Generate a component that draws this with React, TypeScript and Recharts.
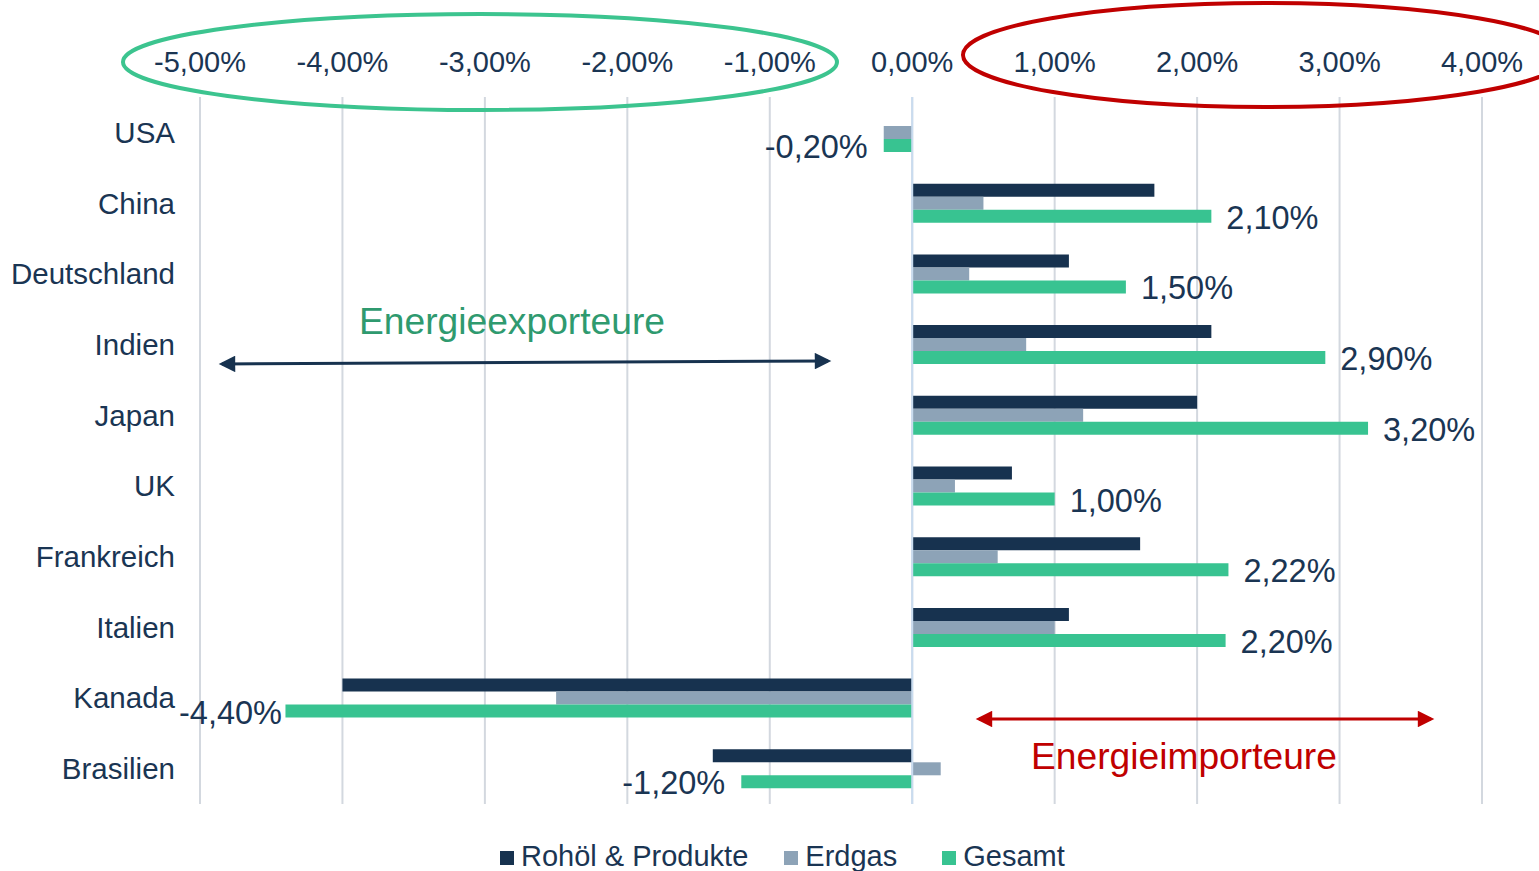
import React from 'react';
import { BarChart, Bar, XAxis, YAxis, CartesianGrid, ReferenceLine, Legend, LabelList } from 'recharts';

const countries = ['USA', 'China', 'Deutschland', 'Indien', 'Japan', 'UK', 'Frankreich', 'Italien', 'Kanada', 'Brasilien'];
const rohoel = [0, 1.7, 1.1, 2.1, 2.0, 0.7, 1.6, 1.1, -4.0, -1.4];
const erdgas = [-0.2, 0.5, 0.4, 0.8, 1.2, 0.3, 0.6, 1.0, -2.5, 0.2];
const gesamt = [-0.2, 2.1, 1.5, 2.9, 3.2, 1.0, 2.22, 2.2, -4.4, -1.2];
const xTicks = [-5, -4, -3, -2, -1, 0, 1, 2, 3, 4];
const seriesNames = ['Rohöl & Produkte', 'Erdgas', 'Gesamt'];
const seriesKeys = ['rohoel', 'erdgas', 'gesamt'];
const seriesColors = ['#17324f', '#8da3b7', '#38c391'];
const exportLabel = 'Energieexporteure';
const importLabel = 'Energieimporteure';

const data = countries.map((name, i) => ({
  name,
  rohoel: rohoel[i],
  erdgas: erdgas[i],
  gesamt: gesamt[i],
}));

const FONT = '"Liberation Sans", Arial, Helvetica, sans-serif';
const TEXT = '#1a3553';

const fmt = (v: number) => v.toFixed(2).replace('.', ',') + '%';

const GesamtLabel = (props: any) => {
  const { x, y, width, height, value } = props;
  const left = Math.min(x, x + width);
  const right = Math.max(x, x + width);
  const cy = y + height / 2 + 12.5;
  const text = fmt(Number(value));
  if (Number(value) >= 0) {
    return (
      <text x={right + 15} y={cy} textAnchor="start" fontSize={32.5} fill={TEXT} fontFamily={FONT}>
        {text}
      </text>
    );
  }
  const end = Math.max(left - 16, 282);
  return (
    <text x={end} y={cy} textAnchor="end" fontSize={32.5} fill={TEXT} fontFamily={FONT}>
      {text}
    </text>
  );
};

const legendGaps = [36, 45, 0];

const renderLegend = () => (
  <div style={{ height: 40, width: 1539, position: 'relative', fontFamily: FONT }}>
    <div style={{ display: 'flex', paddingLeft: 500, paddingTop: 9, alignItems: 'center' }}>
      {seriesNames.map((n, i) => (
        <div key={n} style={{ display: 'flex', alignItems: 'center', marginRight: legendGaps[i] }}>
          <div style={{ width: 14, height: 14, background: seriesColors[i], marginRight: 7, marginTop: 3 }} />
          <span style={{ fontSize: 29, lineHeight: '32px', color: TEXT, whiteSpace: 'nowrap' }}>{n}</span>
        </div>
      ))}
    </div>
  </div>
);

export default function App() {
  return (
    <div style={{ position: 'absolute', left: 0, top: 0, width: 1539, height: 871, background: '#fff', overflow: 'hidden' }}>
      <BarChart
        width={1539}
        height={871}
        data={data}
        layout="vertical"
        margin={{ top: 37, right: 57, left: 0, bottom: 27 }}
        barSize={13}
        barGap={0}
      >
        <CartesianGrid horizontal={false} vertical stroke="#d3d8df" strokeWidth={2} />
        <XAxis
          type="number"
          orientation="top"
          domain={[-5, 4]}
          ticks={xTicks}
          tickFormatter={fmt}
          axisLine={false}
          tickLine={false}
          tickSize={0}
          tickMargin={25}
          height={60}
          interval={0}
          tick={{ fontSize: 29, fill: TEXT, fontFamily: FONT }}
        />
        <YAxis
          type="category"
          dataKey="name"
          width={200}
          axisLine={false}
          tickLine={false}
          tickSize={0}
          tickMargin={25}
          interval={0}
          tick={{ fontSize: 29.5, fill: TEXT, fontFamily: FONT }}
        />
        <ReferenceLine x={0} stroke="#c9dcef" strokeWidth={2} />
        {seriesKeys.map((k, i) => (
          <Bar key={k} dataKey={k} name={seriesNames[i]} fill={seriesColors[i]} isAnimationActive={false}>
            {k === 'gesamt' ? <LabelList dataKey="gesamt" content={GesamtLabel} /> : null}
          </Bar>
        ))}
        <Legend
          verticalAlign="bottom"
          content={renderLegend}
          wrapperStyle={{ left: 0, bottom: 0, width: 1539, height: 40 }}
        />
      </BarChart>
      <svg
        width={1539}
        height={871}
        style={{ position: 'absolute', left: 0, top: 0, pointerEvents: 'none' }}
      >
        <defs>
          <marker id="navyHead" viewBox="0 0 10 10" refX="8" refY="5" markerWidth="6" markerHeight="5.5" orient="auto-start-reverse">
            <path d="M0,0 L10,5 L0,10 z" fill="#17324f" />
          </marker>
          <marker id="redHead" viewBox="0 0 10 10" refX="8" refY="5" markerWidth="6" markerHeight="5.5" orient="auto-start-reverse">
            <path d="M0,0 L10,5 L0,10 z" fill="#c00000" />
          </marker>
        </defs>
        <ellipse cx={480} cy={62} rx={357} ry={48} fill="none" stroke="#3cc48f" strokeWidth={4} />
        <ellipse cx={1265} cy={55} rx={302} ry={52} fill="none" stroke="#c00000" strokeWidth={4} />
        <line x1={222} y1={364} x2={828} y2={361} stroke="#17324f" strokeWidth={3}
          markerStart="url(#navyHead)" markerEnd="url(#navyHead)" />
        <line x1={979} y1={719} x2={1431} y2={719} stroke="#c00000" strokeWidth={3}
          markerStart="url(#redHead)" markerEnd="url(#redHead)" />
        <text x={359} y={334} fontSize={37.2} fill="#2f9a6f" fontFamily={FONT}>{exportLabel}</text>
        <text x={1031} y={769} fontSize={37.2} fill="#c00000" fontFamily={FONT}>{importLabel}</text>
      </svg>
    </div>
  );
}
